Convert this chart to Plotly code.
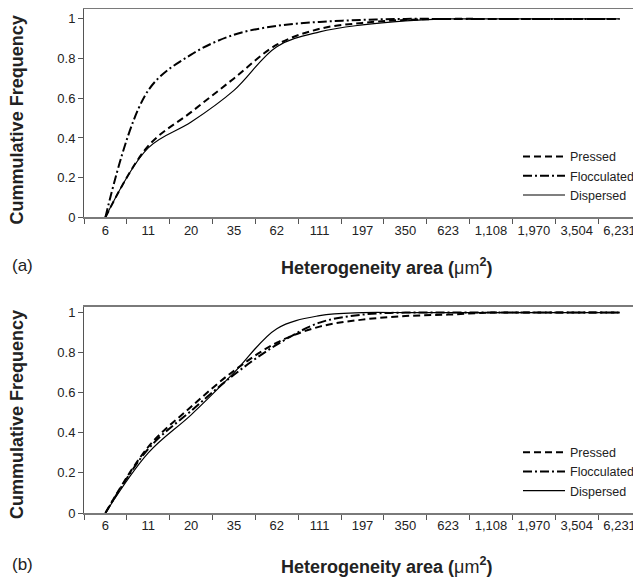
import plotly.graph_objects as go

categories = ["6", "11", "20", "35", "62", "111", "197", "350", "623",
              "1,108", "1,970", "3,504", "6,231"]

pressed_a = [0, 0.36, 0.53, 0.70, 0.87, 0.95, 0.98, 0.995, 1, 1, 1, 1, 1]
flocculated_a = [0, 0.64, 0.82, 0.92, 0.965, 0.985, 0.995, 1, 1, 1, 1, 1, 1]
dispersed_a = [0, 0.35, 0.48, 0.64, 0.86, 0.935, 0.97, 0.99, 1, 1, 1, 1, 1]

pressed_b = [0, 0.33, 0.53, 0.71, 0.85, 0.93, 0.965, 0.983, 0.99, 1, 1, 1, 1]
flocculated_b = [0, 0.32, 0.51, 0.69, 0.84, 0.95, 0.99, 1, 1, 1, 1, 1, 1]
dispersed_b = [0, 0.30, 0.49, 0.70, 0.92, 0.985, 1, 1, 1, 1, 1, 1, 1]

y_ticks = [0, 0.2, 0.4, 0.6, 0.8, 1]
y_ticktext = ["0", "0.2", "0.4", "0.6", "0.8", "1"]

FONT = "Liberation Sans, Arial, sans-serif"
styles = {
    "Pressed": dict(color="black", width=2, dash="7px,4px"),
    "Flocculated": dict(color="black", width=2, dash="9px,3px,2px,3px"),
    "Dispersed": dict(color="black", width=1.2, dash="solid"),
}

fig = go.Figure()
for name, vals in [("Pressed", pressed_a), ("Flocculated", flocculated_a), ("Dispersed", dispersed_a)]:
    fig.add_trace(go.Scatter(x=categories, y=vals, name=name, mode="lines",
                             line=dict(shape="spline", smoothing=1, **styles[name]),
                             xaxis="x", yaxis="y", legend="legend"))
for name, vals in [("Pressed", pressed_b), ("Flocculated", flocculated_b), ("Dispersed", dispersed_b)]:
    fig.add_trace(go.Scatter(x=categories, y=vals, name=name, mode="lines",
                             line=dict(shape="spline", smoothing=1, **styles[name]),
                             xaxis="x2", yaxis="y2", legend="legend2"))

# page has an 8px body margin: work in page pixels and convert
OFF = 8
PAGE_W, PAGE_H = 641, 579
W, H = PAGE_W - OFF, PAGE_H - OFF
PLOT_LEFT, PLOT_RIGHT, PLOT_TOP, PLOT_BOTTOM = 84, 641, 8.5, 513  # page pixels
L = PLOT_LEFT - OFF
R = PAGE_W - PLOT_RIGHT
T = PLOT_TOP - OFF
B = PAGE_H - PLOT_BOTTOM
PW = W - L - R
PH = H - T - B


def px(x):
    return (x - PLOT_LEFT) / PW


def py(y):
    return (PLOT_BOTTOM - y) / PH


axis_common = dict(
    type="category", range=[-0.5, 12.5], tickson="boundaries",
    showline=True, linecolor="#7a7a7a", linewidth=1.5, mirror=True,
    ticks="outside", ticklen=5, tickcolor="#555", tickwidth=1,
    showgrid=False, zeroline=False,
    tickfont=dict(family=FONT, size=13, color="#222"),
)
yaxis_common = dict(
    showline=True, linecolor="#555", linewidth=1, mirror=True,
    ticks="outside", ticklen=5, tickcolor="#555",
    showgrid=False, zeroline=False,
    tickvals=y_ticks, ticktext=y_ticktext,
    tickfont=dict(family=FONT, size=13, color="#222"),
)

top_dom = [py(217), 1.0]
bot_dom = [0.0, py(307)]

legend_common = dict(
    font=dict(family=FONT, size=12.5, color="#222"),
    bgcolor="rgba(0,0,0,0)", borderwidth=0,
    xanchor="left", yanchor="top", itemwidth=42,
    tracegroupgap=0,
)

title_font = dict(family=FONT, size=18, color="#222")
fig.update_layout(
    width=W, height=H,
    margin=dict(l=L, r=R, t=T, b=B, pad=0),
    paper_bgcolor="white", plot_bgcolor="white",
    font=dict(family=FONT, color="#222"),
    xaxis=dict(domain=[0, 1], anchor="y", **axis_common),
    yaxis=dict(domain=top_dom, anchor="x", range=[0, 1.05], **yaxis_common),
    xaxis2=dict(domain=[0, 1], anchor="y2", **axis_common),
    yaxis2=dict(domain=bot_dom, anchor="x2", range=[0, 1.027], **yaxis_common),
    legend=dict(x=px(518), y=py(141.5), **legend_common),
    legend2=dict(x=px(518), y=py(437.5), **legend_common),
    annotations=[
        dict(text="<b>Cummulative Frequency</b>", xref="paper", yref="paper",
             x=px(17), y=py(120), textangle=-90, showarrow=False,
             xanchor="center", yanchor="middle", font=title_font),
        dict(text="<b>Cummulative Frequency</b>", xref="paper", yref="paper",
             x=px(17), y=py(415), textangle=-90, showarrow=False,
             xanchor="center", yanchor="middle", font=title_font),
        dict(text="<b>Heterogeneity area (</b>μm<b><sup>2</sup>)</b>", xref="paper", yref="paper",
             x=px(386), y=py(266), showarrow=False,
             xanchor="center", yanchor="middle", font=title_font),
        dict(text="<b>Heterogeneity area (</b>μm<b><sup>2</sup>)</b>", xref="paper", yref="paper",
             x=px(386), y=py(566), showarrow=False,
             xanchor="center", yanchor="middle", font=title_font),
        dict(text="(a)", xref="paper", yref="paper",
             x=px(22), y=py(265), showarrow=False,
             xanchor="center", yanchor="middle",
             font=dict(family=FONT, size=17, color="#222")),
        dict(text="(b)", xref="paper", yref="paper",
             x=px(22), y=py(565), showarrow=False,
             xanchor="center", yanchor="middle",
             font=dict(family=FONT, size=17, color="#222")),
    ],
)

fig.write_html("out.html")
